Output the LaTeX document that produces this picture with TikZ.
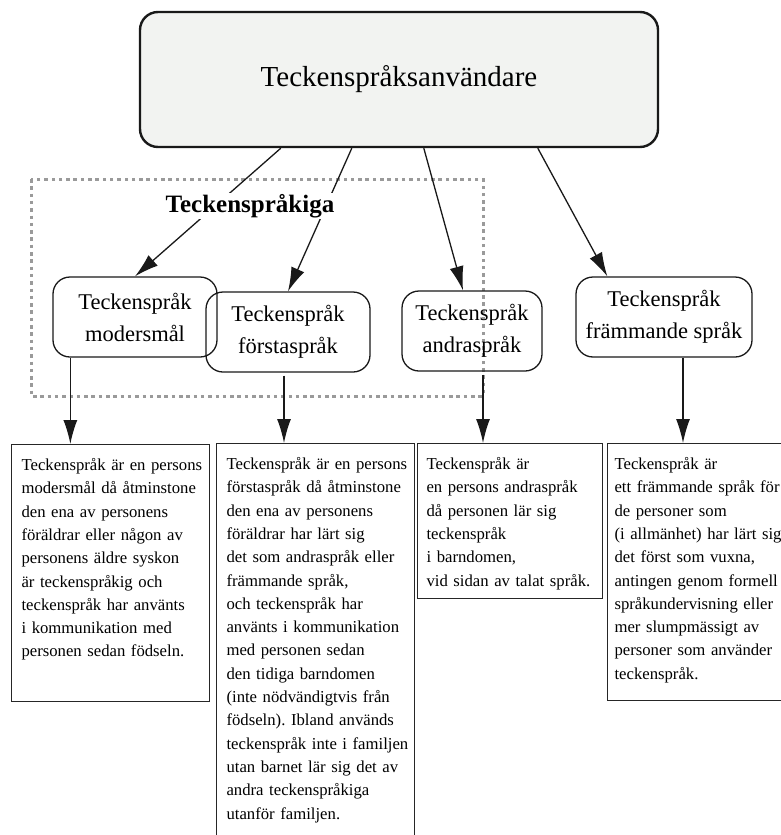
\documentclass[tikz,border=0pt]{standalone}
\usepackage{fontspec}
\setmainfont{Liberation Serif}
\usetikzlibrary{arrows.meta}
\definecolor{userfill}{HTML}{F2F3F1}
\definecolor{groupgray}{HTML}{9A9A9A}
\newcommand{\deflines}[1]{\begin{tabular}[t]{@{}l@{}}#1\end{tabular}}
\frenchspacing
\begin{document}
\begin{tikzpicture}[
  x=1pt, y=-1pt,
  usernode/.style={draw=black!90, line width=2.4pt, fill=userfill, rounded corners=18pt,
    minimum width=518pt, minimum height=135pt, font=\fontsize{29}{34}\selectfont},
  langnode/.style={draw=black!90, line width=1.3pt, rounded corners=17pt,
    minimum height=80pt, align=center, font=\fontsize{22.5}{32}\selectfont},
  infobox/.style={draw=black!85, line width=1.1pt, anchor=north west,
    inner xsep=10pt, inner ysep=0pt, text height=26pt, font=\fontsize{16.7}{23.3}\selectfont},
  link/.style={draw=black!90, line width=1.3pt, -{Latex[length=24pt,width=14pt]}}]
    \useasboundingbox (0,0) rectangle (781,835);
    \clip (0,0) rectangle (781,835);
    % Root node for all users
    \node[usernode] (users) at (399,79.5) {Teckenspråksanvändare};
    % Dotted frame round the first two kinds
    \draw[groupgray, line width=3pt, dash pattern=on 3.5pt off 3.8pt] (31,179) rectangle (483,396);
    % The four kinds of users
    \node[langnode, minimum width=164pt] (mother) at (135,317) {Teckenspråk\\modersmål};
    \node[langnode, minimum width=164pt] (first) at (288,332) {Teckenspråk\\förstaspråk};
    \node[langnode, minimum width=140pt] (second) at (472,331) {Teckenspråk\\andraspråk};
    \node[langnode, minimum width=176pt] (foreign) at (664,317) {Teckenspråk\\främmande språk};
    % Definitions under each kind
    \node[infobox, text width=178pt, text depth=231pt] (defmother) at (11,444)
      {\deflines{Teckenspråk är en persons\\ modersmål då åtminstone\\ den ena av personens\\
       föräldrar eller någon av\\ personens äldre syskon\\ är teckenspråkig och\\
       teckenspråk har använts\\ i kommunikation med\\ personen sedan födseln.}};
    \node[infobox, text width=178pt, text depth=420pt] (deffirst) at (216,443)
      {\deflines{Teckenspråk är en persons\\ förstaspråk då åtminstone\\ den ena av personens\\
       föräldrar har lärt sig\\ det som andraspråk eller\\ främmande språk,\\
       och teckenspråk har\\ använts i kommunikation\\ med personen sedan\\
       den tidiga barndomen\\ (inte nödvändigtvis från\\ födseln). Ibland används\\
       teckenspråk inte i familjen\\ utan barnet lär sig det av\\ andra teckenspråkiga\\
       utanför familjen.}};
    \node[infobox, text width=167pt, inner xsep=9pt, text depth=129pt] (defsecond) at (417,443)
      {\deflines{Teckenspråk är\\ en persons andraspråk\\ då personen lär sig\\ teckenspråk\\
       i barndomen,\\ vid sidan av talat språk.}};
    \node[infobox, text width=178pt, inner xsep=7pt, text depth=231pt] (defforeign) at (607,443)
      {\deflines{Teckenspråk är\\ ett främmande språk för\\ de personer som\\ (i allmänhet) har lärt sig\\
       det först som vuxna,\\ antingen genom formell\\ språkundervisning eller\\
       mer slumpmässigt av\\ personer som använder\\ teckenspråk.}};
    % Arrows from the root
    \draw[link] ([xshift=142pt]users.south west) -- (mother.north);
    \draw[link] ([xshift=213pt]users.south west) -- (first.north);
    \draw[link] ([xshift=285pt]users.south west) -- ([xshift=-9pt]second.north);
    \draw[link] ([xshift=399pt]users.south west) -- ([xshift=32pt]foreign.north west);
    % Arrows down to the definitions
    \coordinate (mdown) at ([xshift=18pt]mother.south west);
    \coordinate (fdown) at ([xshift=-4pt,yshift=-3pt]first.south);
    \coordinate (sdown) at ([xshift=11pt,yshift=-3pt]second.south);
    \coordinate (odown) at ([xshift=19pt]foreign.south);
    \draw[link] (mdown) -- (mdown |- defmother.north);
    \draw[link] (fdown) -- (fdown |- deffirst.north);
    \draw[link] (sdown) -- (sdown |- defsecond.north);
    \draw[link] (odown) -- (odown |- defforeign.north);
    % Group label on top of the arrows
    \node[font=\fontsize{25}{30}\selectfont\bfseries, fill=white, inner sep=1pt, anchor=base]
      (group) at (250,212) {Teckenspråkiga};
\end{tikzpicture}
\end{document}
